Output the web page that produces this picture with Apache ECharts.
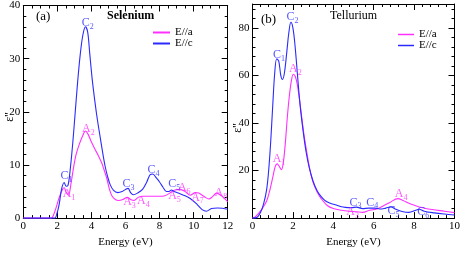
<!DOCTYPE html>
<html>
<head>
<meta charset="utf-8">
<script src="https://cdn.jsdelivr.net/npm/echarts@6/dist/echarts.min.js"></script>
<style>
html,body{margin:0;padding:0;background:#fff;}
#chart{width:463px;height:253px;}
</style>
</head>
<body>
<div id="chart"></div>
<script>
// ---------- Data (Energy eV, epsilon'') ----------
const seA = [[0,0],[1.65,0],[1.8,0.8],[1.95,2.2],[2.1,3.8],[2.3,5.4],[2.4,5.7],[2.5,5.0],[2.65,4.3],[2.8,6.5],[2.95,9.5],[3.1,12],[3.3,14],[3.5,15.6],[3.65,16.4],[3.8,15.8],[4.0,14.3],[4.2,13],[4.4,11.8],[4.6,10.4],[4.75,9],[4.9,7.5],[5.05,5.5],[5.2,4.2],[5.4,3.5],[5.6,3.3],[5.85,3.5],[6.1,3.9],[6.3,3.5],[6.5,3.3],[6.75,3.9],[7.0,4.1],[7.5,4.1],[8.0,4.1],[8.3,4.2],[8.6,4.7],[8.9,5.3],[9.2,5.4],[9.5,5.0],[9.8,4.3],[10.1,4.8],[10.3,4.7],[10.6,4.1],[10.9,3.6],[11.1,4.0],[11.35,4.7],[11.6,4.3],[11.8,3.7],[12,3.1]];
const seC = [[0,0],[1.85,0],[1.95,0.6],[2.1,2.5],[2.25,5.5],[2.4,6.7],[2.52,6.0],[2.62,6.1],[2.75,9],[2.9,14],[3.05,20],[3.2,26],[3.35,31],[3.5,34.5],[3.65,36],[3.78,35],[3.9,31],[4.05,26],[4.2,22],[4.35,18.5],[4.5,15.5],[4.65,12.5],[4.8,9.8],[4.95,7.8],[5.1,6.3],[5.3,5.2],[5.55,4.8],[5.8,5.0],[6.0,5.4],[6.15,5.6],[6.3,4.8],[6.45,4.4],[6.7,4.7],[7.0,5.4],[7.25,6.8],[7.45,8.2],[7.6,8.3],[7.8,7.6],[8.0,6.8],[8.2,5.8],[8.4,5.0],[8.55,5.0],[8.7,5.3],[8.85,5.0],[9.2,4.6],[9.5,4.2],[9.8,3.7],[10.2,2.6],[10.5,1.6],[10.75,1.3],[11.05,1.8],[11.4,1.9],[11.7,1.85],[12,1.65]];
const teA = [[0,0],[0.1,0.3],[0.3,2],[0.5,4.2],[0.7,7.2],[0.85,11.5],[1.0,17],[1.12,21.5],[1.22,22.8],[1.32,21.8],[1.43,20.3],[1.52,23],[1.62,31],[1.72,42],[1.82,51],[1.92,57.5],[2.02,60.5],[2.12,59.5],[2.22,56],[2.34,49],[2.45,41.5],[2.55,35],[2.7,27],[2.85,20],[3.0,15],[3.2,11],[3.4,8.2],[3.7,5.3],[4.0,4.0],[4.4,3.3],[4.8,2.9],[5.15,2.7],[5.45,2.4],[5.8,3.3],[6.15,3.8],[6.45,5],[6.8,6.6],[7.2,8.2],[7.45,7.4],[7.8,6.0],[8.25,4.7],[8.9,3.6],[9.5,2.9],[10,2.3]];
const teC = [[0,0],[0.2,0.2],[0.4,2.5],[0.55,6],[0.7,12],[0.8,20],[0.9,32],[1.0,47],[1.1,61],[1.2,67],[1.3,66],[1.4,60],[1.48,58.3],[1.58,61],[1.7,70],[1.8,78],[1.9,82.3],[2.0,80],[2.1,73],[2.2,63],[2.35,48],[2.5,37],[2.65,28],[2.8,21.5],[3.0,15.5],[3.2,11.5],[3.4,9],[3.6,7.3],[3.85,6.2],[4.1,5.6],[4.35,4.9],[4.6,4.5],[4.9,4.4],[5.15,4.6],[5.45,4.0],[5.75,4.2],[6.05,4.2],[6.3,3.8],[6.6,4.2],[6.85,4.7],[7.1,3.7],[7.4,2.8],[7.75,2.4],[8.05,3.2],[8.25,3.7],[8.5,2.9],[9.0,2.2],[9.5,1.7],[10,1.3]];

// peak labels: [E, eps, letter, subscript]
const seLabelsA = [[2.54,4.5,'A','1'],[3.67,16.7,'A','2'],[6.09,3.0,'A','3'],[6.9,3.2,'A','4'],[8.73,4.2,'A','5'],[9.3,5.75,'A','6'],[10.08,3.9,'A','7'],[11.45,4.8,'A','8']];
const seLabelsC = [[2.39,7.9,'C','1'],[3.63,36.8,'C','2'],[6.03,6.4,'C','3'],[7.5,9.0,'C','4'],[8.71,6.4,'C','5']];
const teLabelsA = [[1.19,24.9,'A','1'],[2.0,62.7,'A','2'],[4.83,2.7,'A','3'],[7.23,10,'A','4']];
const teLabelsC = [[1.19,68.7,'C','1'],[1.86,84.7,'C','2'],[4.98,6.6,'C','3'],[5.81,6.6,'C','4'],[6.86,3.2,'C','5'],[8.33,2.7,'C','6']];

const seXTicks = {min:0, max:12, interval:2};
const seYTicks = {min:0, max:40, interval:10};
const teXTicks = {min:0, max:10, interval:2};
const teYTicks = {min:0, max:90, interval:20};
const seriesNames = ['E//a','E//c'];
const panelTitles = ['(a)','Selenium','(b)','Tellurium'];
const xName = 'Energy (eV)';
const yName = "ε''";

// ---------- Styles ----------
const PINK = '#ff30ff', BLUE = '#2a2aff';
const FONT = '"Liberation Serif", "DejaVu Serif", serif';

function xAx(grid, ticks, minorSplit, pos, labels) {
  return {
    type:'value', gridIndex:grid, position:pos, min:ticks.min, max:ticks.max, interval:ticks.interval,
    axisLine:{show:true, onZero:false, lineStyle:{color:'#000', width:1}},
    axisTick:{show:true, inside:true, length:6, lineStyle:{color:'#000'}},
    minorTick:{show:true, splitNumber:minorSplit, length:3, lineStyle:{color:'#000'}},
    splitLine:{show:false},
    axisLabel:{show:labels, color:'#000', fontFamily:FONT, fontSize:11, margin:3},
    name: labels ? xName : '', nameLocation:'middle', nameGap:15,
    nameTextStyle:{color:'#000', fontFamily:FONT, fontSize:11}
  };
}
function yAx(grid, ticks, minorSplit, pos, labels) {
  return {
    type:'value', gridIndex:grid, position:pos, min:ticks.min, max:ticks.max, interval:ticks.interval,
    axisLine:{show:true, onZero:false, lineStyle:{color:'#000', width:1}},
    axisTick:{show:true, inside:true, length:6, lineStyle:{color:'#000'}},
    minorTick:{show:true, splitNumber:minorSplit, length:3, lineStyle:{color:'#000'}},
    splitLine:{show:false},
    axisLabel:{show:labels, color:'#000', fontFamily:FONT, fontSize:11, margin:3}
  };
}

function lineSeries(name, data, color, xi, yi) {
  return {type:'line', name:name, data:data, xAxisIndex:xi, yAxisIndex:yi,
    smooth:0.35, showSymbol:false, symbol:'none', color:color,
    lineStyle:{color:color, width:1.1}, z:3};
}
function labelSeries(data, color, xi, yi) {
  return {type:'scatter', data:data, xAxisIndex:xi, yAxisIndex:yi, symbolSize:1,
    itemStyle:{color:'rgba(0,0,0,0)'}, silent:true, z:5,
    label:{show:true, position:'inside', offset:[2.5,1],
      formatter:p => '{m|' + p.data[2] + '}{s|' + p.data[3] + '}',
      rich:{
        m:{fontFamily:FONT, fontSize:12, color:color, lineHeight:12, verticalAlign:'top'},
        s:{fontFamily:FONT, fontSize:8, color:color, lineHeight:14, verticalAlign:'bottom'}
      }}
  };
}
function yTitle(x, y) {
  return {type:'text', x:x, y:y, rotation:Math.PI/2, silent:true,
    style:{text:yName, fill:'#000', font:'12px ' + FONT, align:'center', verticalAlign:'middle'}};
}

const option = {
  animation:false,
  backgroundColor:'#fff',
  textStyle:{fontFamily:FONT},
  title:[
    {text:panelTitles[0], left:36, top:10, textStyle:{fontFamily:FONT, fontSize:13, fontWeight:'normal', color:'#000'}},
    {text:panelTitles[1], left:107, top:10, textStyle:{fontFamily:FONT, fontSize:12, fontWeight:'bold', color:'#000'}},
    {text:panelTitles[2], left:261, top:13, textStyle:{fontFamily:FONT, fontSize:13, fontWeight:'normal', color:'#000'}},
    {text:panelTitles[3], left:330, top:10, textStyle:{fontFamily:FONT, fontSize:12, fontWeight:'normal', color:'#000'}}
  ].map(t => Object.assign({padding:0}, t)),
  legend:[
    {data:seriesNames, left:153, top:27, orient:'vertical', itemWidth:17, itemHeight:2, itemGap:0, icon:'rect', padding:0,
     textStyle:{fontFamily:FONT, fontSize:11, color:'#000', lineHeight:10}},
    {data:seriesNames, left:398, top:29, orient:'vertical', itemWidth:16, itemHeight:1.5, itemGap:0, icon:'rect', padding:0,
     textStyle:{fontFamily:FONT, fontSize:11, color:'#000', lineHeight:10}}
  ],
  grid:[
    {left:23.3, top:4, width:204.4, height:226},
    {left:252.5, top:4, width:204.2, height:226}
  ],
  graphic:[ yTitle(10, 117), yTitle(238, 128) ],
  xAxis:[
    xAx(0, seXTicks, 4, 'bottom', true),
    xAx(0, seXTicks, 4, 'top', false),
    xAx(1, teXTicks, 5, 'bottom', true),
    xAx(1, teXTicks, 5, 'top', false)
  ],
  yAxis:[
    yAx(0, seYTicks, 5, 'left', true),
    yAx(0, seYTicks, 5, 'right', false),
    yAx(1, teYTicks, 5, 'left', true),
    yAx(1, teYTicks, 5, 'right', false)
  ],
  series:[
    lineSeries(seriesNames[0], seA, PINK, 0, 0),
    lineSeries(seriesNames[1], seC, BLUE, 0, 0),
    lineSeries(seriesNames[0], teA, PINK, 2, 2),
    lineSeries(seriesNames[1], teC, BLUE, 2, 2),
    labelSeries(seLabelsA, PINK, 0, 0),
    labelSeries(seLabelsC, BLUE, 0, 0),
    labelSeries(teLabelsA, PINK, 2, 2),
    labelSeries(teLabelsC, BLUE, 2, 2)
  ]
};
option.yAxis[2].axisLabel.showMinLabel = false;
option.yAxis[2].axisLabel.showMaxLabel = false;

const chart = echarts.init(document.getElementById('chart'), null, {renderer:'canvas'});
chart.setOption(option);
</script>
</body>
</html>
